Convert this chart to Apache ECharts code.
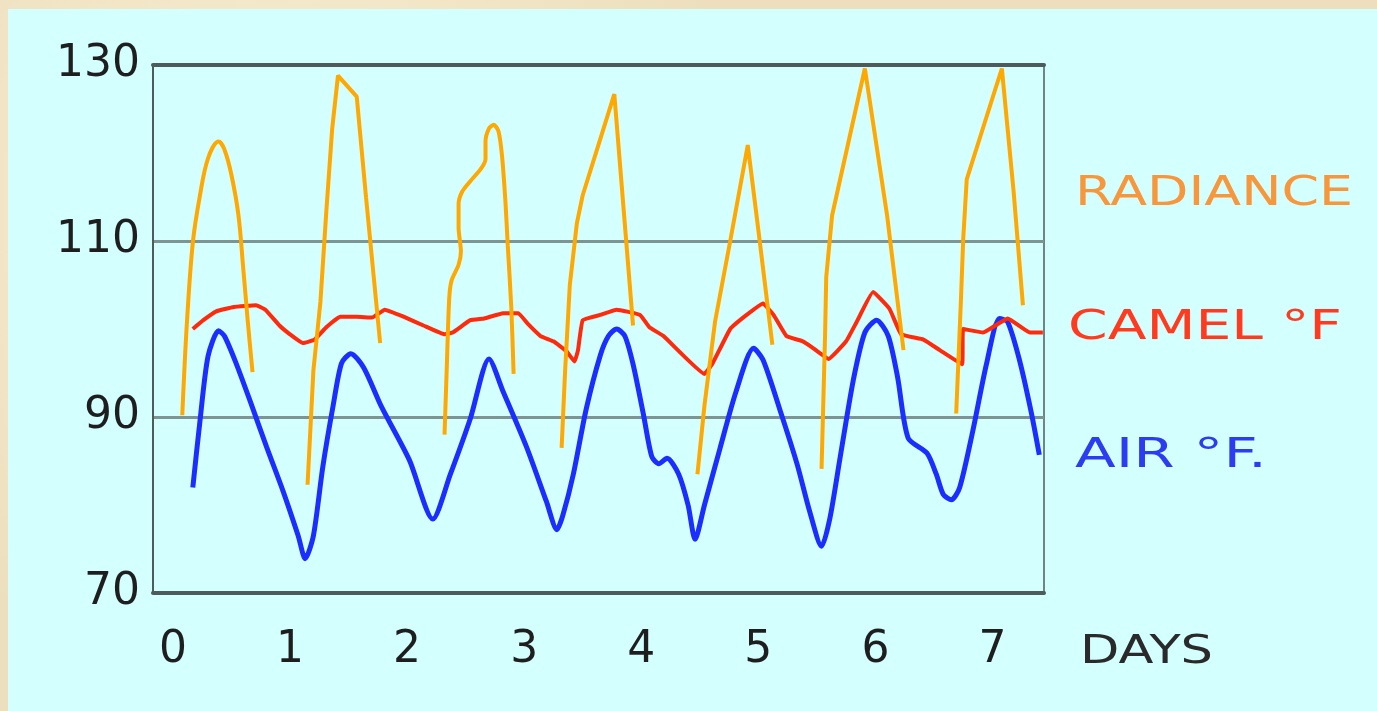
<!DOCTYPE html>
<html><head><meta charset="utf-8">
<script src="https://cdn.jsdelivr.net/npm/echarts@6/dist/echarts.min.js"></script>
<style>
html,body{margin:0;padding:0;width:1377px;height:711px;overflow:hidden;}
body{background:#eddfbd;background-image:radial-gradient(circle at 20% 30%,rgba(255,248,225,0.6),rgba(0,0,0,0) 40%),radial-gradient(circle at 70% 80%,rgba(200,170,120,0.35),rgba(0,0,0,0) 50%);}
#bg{position:absolute;left:8px;top:9px;right:0;bottom:0;background:#d3ffff;}
#chart{position:absolute;left:0;top:0;width:1377px;height:711px;}
</style></head><body><div id="bg"></div><div id="chart"></div>
<script>
// ---- data (days, °F) ----
const xTicks = [0, 1, 2, 3, 4, 5, 6, 7];
const yTicks = [70, 90, 110, 130];

const airF = [[0.17,82.0],[0.23,89.4],[0.30,96.9],[0.39,99.8],[0.44,99.2],[0.54,96.1],[0.66,91.8],[0.80,86.6],[0.94,81.6],[1.07,76.5],[1.13,73.9],[1.20,76.5],[1.28,84.3],[1.37,91.4],[1.44,96.1],[1.52,97.2],[1.63,95.6],[1.78,91.2],[2.02,85.1],[2.22,78.4],[2.37,83.5],[2.54,89.8],[2.70,96.6],[2.82,92.9],[3.02,86.6],[3.19,80.4],[3.28,77.2],[3.33,78.8],[3.42,83.5],[3.53,90.9],[3.65,97.0],[3.72,99.2],[3.79,100.0],[3.86,99.2],[3.93,96.0],[4.02,90.2],[4.09,85.5],[4.15,84.7],[4.22,85.3],[4.32,83.5],[4.40,80.0],[4.46,76.1],[4.54,80.0],[4.67,86.3],[4.81,92.9],[4.96,97.8],[5.04,96.5],[5.18,91.0],[5.33,84.7],[5.44,79.2],[5.54,75.3],[5.61,78.4],[5.70,85.5],[5.81,94.1],[5.91,99.6],[6.01,101.0],[6.11,99.2],[6.19,94.5],[6.28,87.6],[6.44,85.9],[6.52,83.5],[6.58,81.2],[6.65,80.6],[6.72,82.0],[6.83,88.3],[6.95,96.1],[7.06,101.2],[7.13,100.8],[7.23,96.5],[7.33,90.6],[7.40,85.7]];

const camelF = [[0.17,100.0],[0.26,101.0],[0.37,102.0],[0.52,102.5],[0.71,102.7],[0.79,102.2],[0.91,100.4],[1.00,99.4],[1.11,98.4],[1.21,98.8],[1.31,100.2],[1.43,101.4],[1.57,101.4],[1.70,101.3],[1.81,102.2],[1.97,101.4],[2.14,100.4],[2.32,99.4],[2.39,99.6],[2.54,101.0],[2.66,101.2],[2.82,101.8],[2.95,101.8],[3.03,100.6],[3.14,99.2],[3.25,98.6],[3.36,97.5],[3.43,96.3],[3.46,97.6],[3.50,101.0],[3.65,101.6],[3.79,102.2],[3.99,101.6],[4.07,100.2],[4.19,99.2],[4.54,94.9],[4.61,96.1],[4.76,100.0],[4.90,101.6],[5.04,102.9],[5.13,101.6],[5.24,99.2],[5.38,98.6],[5.45,98.0],[5.60,96.6],[5.75,98.6],[5.84,100.8],[5.98,104.2],[6.12,102.3],[6.22,99.4],[6.41,98.8],[6.55,97.6],[6.74,96.0],[6.75,100.0],[6.92,99.6],[7.13,101.2],[7.32,99.6],[7.43,99.6]];

// radiance: one separate trace per day
const radianceDay1 = [[0.08,90.2],[0.12,100.8],[0.17,109.8],[0.23,115.1],[0.30,119.4],[0.39,121.3],[0.44,120.4],[0.50,117.5],[0.56,112.9],[0.60,107.0],[0.64,100.8],[0.68,95.1]];
const radianceDay2 = [[1.15,82.3],[1.20,95.3],[1.26,103.1],[1.31,113.3],[1.36,122.7],[1.41,128.8],[1.57,126.4],[1.65,114.9],[1.77,98.4]];
const radianceDay3 = [[2.32,88.0],[2.34,96.0],[2.36,103.5],[2.38,105.5],[2.44,107.3],[2.46,108.8],[2.44,111.5],[2.44,114.2],[2.47,115.6],[2.54,116.8],[2.63,118.2],[2.67,119.3],[2.67,121.3],[2.70,122.8],[2.74,123.2],[2.78,122.5],[2.81,119.8],[2.84,114.5],[2.86,109.5],[2.89,102.5],[2.91,94.9]];
const radianceDay4 = [[3.32,86.5],[3.35,95.3],[3.39,105.0],[3.45,112.0],[3.50,115.2],[3.62,120.3],[3.77,126.7],[3.93,100.4]];
const radianceDay5 = [[4.48,83.5],[4.54,91.3],[4.63,100.8],[4.76,110.0],[4.91,120.9],[5.01,110.2],[5.12,98.2]];
const radianceDay6 = [[5.54,84.1],[5.57,99.2],[5.58,105.9],[5.63,112.9],[5.91,129.6],[6.10,112.9],[6.24,97.6]];
const radianceDay7 = [[6.69,90.4],[6.73,103.1],[6.75,110.2],[6.78,117.0],[7.08,129.6],[7.18,115.7],[7.26,102.7]];
const radianceDays = [radianceDay1, radianceDay2, radianceDay3, radianceDay4, radianceDay5, radianceDay6, radianceDay7];

const labelTexts = { radiance: 'RADIANCE', camel: 'CAMEL °F', air: 'AIR °F.', days: 'DAYS' };

// ---- chart ----
const FONT = '"DejaVu Sans", sans-serif';
const ctx = document.createElement('canvas').getContext('2d');
function fitScale(text, size, target) {
  ctx.font = size + 'px ' + FONT;
  return target / ctx.measureText(text).width;
}
function sideLabel(text, x, y, size, color, width) {
  return {
    type: 'text', x: x, y: y, scaleX: fitScale(text, size, width), silent: true,
    style: { text: text, font: size + 'px ' + FONT, fill: color, align: 'left', verticalAlign: 'middle', textAlign: 'left', textVerticalAlign: 'middle' }
  };
}

const chart = echarts.init(document.getElementById('chart'), null, { renderer: 'canvas' });
const series = [
  { name: 'AIR °F.', type: 'line', data: airF, smooth: 0.25, symbol: 'none', lineStyle: { color: '#1a2eff', width: 5 }, z: 3 },
  { name: 'CAMEL °F', type: 'line', data: camelF, smooth: 0.1, symbol: 'none', lineStyle: { color: '#ff2a0c', width: 4 }, z: 4 }
];
const radianceSmooth = [0.35, 0, 0.25, 0, 0, 0, 0];
radianceDays.forEach(function (d, i) {
  series.push({ name: 'RADIANCE', type: 'line', data: d, smooth: radianceSmooth[i], symbol: 'none', lineStyle: { color: '#ffa800', width: 4 }, z: 5 });
});

chart.setOption({
  animation: false,
  backgroundColor: 'transparent',
  grid: { left: 153, right: 333, top: 65, bottom: 118, show: true, borderColor: '#6f8583', borderWidth: 2, backgroundColor: 'transparent' },
  xAxis: [
    { type: 'value', min: -0.17, max: 7.44, position: 'bottom',
      axisLine: { show: true, onZero: false, lineStyle: { color: '#4d5c5b', width: 4 } },
      axisTick: { show: false }, splitLine: { show: false },
      axisLabel: { customValues: xTicks, color: '#1e1e1e', fontFamily: FONT, fontSize: 44, margin: 36 } },
    { type: 'value', min: -0.17, max: 7.44, position: 'top',
      axisLine: { show: true, onZero: false, lineStyle: { color: '#4d5c5b', width: 4 } },
      axisTick: { show: false }, splitLine: { show: false }, axisLabel: { show: false } }
  ],
  yAxis: { type: 'value', min: 70, max: 130, interval: 20,
    axisLine: { show: true, onZero: false, lineStyle: { color: '#4d5c5b', width: 2 } },
    axisTick: { show: false },
    splitLine: { show: true, lineStyle: { color: '#7c9593', width: 3 } },
    axisLabel: { customValues: yTicks, color: '#1e1e1e', fontFamily: FONT, fontSize: 44, margin: 13, padding: [9, 0, 0, 0] } },
  series: series,
  graphic: [
    sideLabel(labelTexts.radiance, 1075, 195, 40, '#f7963a', 278),
    sideLabel(labelTexts.camel, 1068, 328, 41, '#ff3a1e', 274),
    sideLabel(labelTexts.air, 1075, 457, 40, '#2b3cf2', 192),
    sideLabel(labelTexts.days, 1080, 653, 39, '#2a2a2a', 133)
  ]
});
</script></body></html>
